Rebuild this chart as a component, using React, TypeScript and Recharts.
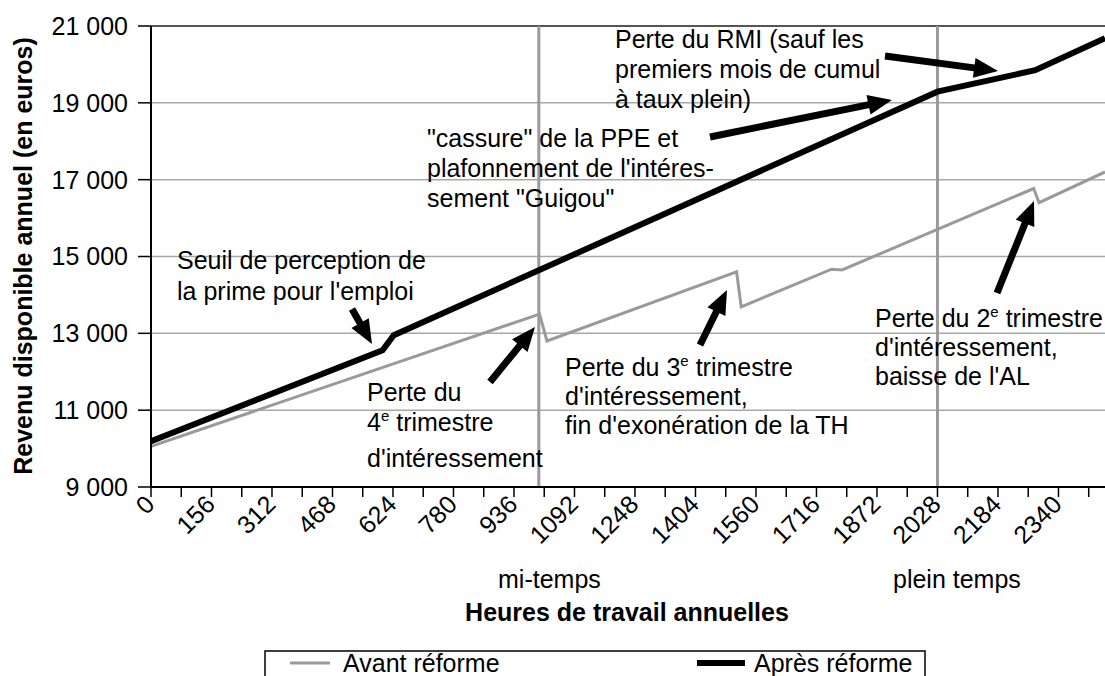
import React from "react";
import { LineChart, Line, XAxis, YAxis, CartesianGrid, ReferenceLine } from "recharts";

// heures annuelles / revenu disponible annuel (euros)
const heuresAvant = [0, 1002, 1021, 1510, 1522, 1755, 1782, 2276, 2290, 2460];
const revenuAvant = [10060, 13500, 12800, 14600, 13690, 14670, 14650, 16770, 16400, 17200];

const heuresApres = [0, 597, 626, 2028, 2280, 2460];
const revenuApres = [10190, 12560, 12950, 19290, 19850, 20680];

const yTicks = [9000, 11000, 13000, 15000, 17000, 19000, 21000];
const xTicks = Array.from({ length: 32 }, (_, i) => i * 78);
const miTemps = 1000;
const pleinTemps = 2028;

const avant = heuresAvant.map((h, i) => ({ h, v: revenuAvant[i] }));
const apres = heuresApres.map((h, i) => ({ h, v: revenuApres[i] }));

const FONT = "'Liberation Sans', Arial, Helvetica, sans-serif";

function fmtY(v: number) {
  const s = String(v);
  return s.slice(0, s.length - 3) + " " + s.slice(-3);
}

function XTick(props: any) {
  const { x, y, payload } = props;
  const v = payload.value;
  if (v % 156 !== 0) return <g />;
  const ax = x + 5;
  const ay = y + 9;
  return (
    <text x={ax} y={ay} transform={`rotate(-45 ${ax} ${ay})`} textAnchor="end" fontSize={25} fill="#000">
      {v}
    </text>
  );
}

function Arrow({ x1, y1, x2, y2 }: { x1: number; y1: number; x2: number; y2: number }) {
  const dx = x2 - x1;
  const dy = y2 - y1;
  const len = Math.sqrt(dx * dx + dy * dy);
  const ux = dx / len;
  const uy = dy / len;
  const hl = 24;
  const hw = 10;
  const bx = x2 - ux * hl;
  const by = y2 - uy * hl;
  return (
    <g>
      <line x1={x1} y1={y1} x2={bx + ux * 2} y2={by + uy * 2} stroke="#000" strokeWidth={7} />
      <polygon
        points={`${x2},${y2} ${bx - uy * hw},${by + ux * hw} ${bx + uy * hw},${by - ux * hw}`}
        fill="#000"
      />
    </g>
  );
}

function Sup({ c }: { c: string }) {
  return (
    <tspan dy={-10} fontSize={15}>
      {c}
    </tspan>
  );
}

export default function App() {
  return (
    <div
      style={{
        position: "absolute",
        left: 0,
        top: 0,
        width: 1105,
        height: 676,
        background: "#fff",
        overflow: "hidden",
        fontFamily: FONT,
      }}
    >
      <LineChart width={1105} height={676} margin={{ top: 26, right: 0, bottom: 0, left: 0 }}>
        <CartesianGrid vertical={false} stroke="#a8a8a8" strokeWidth={1.5} />
        <XAxis
          type="number"
          dataKey="h"
          domain={[0, 2460]}
          ticks={xTicks}
          interval={0}
          height={189}
          tick={<XTick />}
          tickSize={10}
          tickMargin={0}
          axisLine={{ stroke: "#000", strokeWidth: 2 }}
          tickLine={{ stroke: "#000", strokeWidth: 1.5 }}
          allowDataOverflow
        />
        <YAxis
          type="number"
          domain={[9000, 21000]}
          ticks={yTicks}
          width={151}
          tickFormatter={fmtY}
          tick={{ fontSize: 25, fill: "#000" }}
          tickSize={13}
          tickMargin={10}
          axisLine={{ stroke: "#000", strokeWidth: 2 }}
          tickLine={{ stroke: "#000", strokeWidth: 1.5 }}
        />
        <ReferenceLine y={21000} stroke="#555" strokeWidth={2} />
        <ReferenceLine x={miTemps} stroke="#9b9b9b" strokeWidth={3} />
        <ReferenceLine x={pleinTemps} stroke="#9b9b9b" strokeWidth={3} />
        <Line
          data={avant}
          dataKey="v"
          type="linear"
          stroke="#9a9a9a"
          strokeWidth={3}
          dot={false}
          isAnimationActive={false}
        />
        <Line
          data={apres}
          dataKey="v"
          type="linear"
          stroke="#000"
          strokeWidth={6}
          dot={false}
          isAnimationActive={false}
        />
      </LineChart>

      <svg
        width={1105}
        height={676}
        style={{ position: "absolute", left: 0, top: 0, pointerEvents: "none" }}
        fontFamily={FONT}
        fontSize={25}
      >
        <text
          x={32}
          y={256}
          transform="rotate(-90 32 256)"
          textAnchor="middle"
          fontWeight="bold"
        >
          Revenu disponible annuel (en euros)
        </text>

        <text x={498} y={588}>mi-temps</text>
        <text x={893} y={588}>plein temps</text>
        <text x={627} y={621} textAnchor="middle" fontWeight="bold">
          Heures de travail annuelles
        </text>

        <rect x={265} y={651} width={660} height={40} fill="none" stroke="#000" strokeWidth={1.5} />
        <line x1={290} y1={663} x2={330} y2={663} stroke="#9a9a9a" strokeWidth={3} />
        <text x={343} y={672}>Avant réforme</text>
        <line x1={697} y1={663} x2={745} y2={663} stroke="#000" strokeWidth={6} />
        <text x={754} y={672}>Après réforme</text>

        <text x={615}>
          <tspan x={615} y={48}>Perte du RMI (sauf les</tspan>
          <tspan x={615} y={78}>premiers mois de cumul</tspan>
          <tspan x={615} y={108}>à taux plein)</tspan>
        </text>
        <text x={427}>
          <tspan x={427} y={147}>"cassure" de la PPE et</tspan>
          <tspan x={427} y={177}>plafonnement de l'intéres-</tspan>
          <tspan x={427} y={207}>sement "Guigou"</tspan>
        </text>
        <text x={177}>
          <tspan x={177} y={269}>Seuil de perception de</tspan>
          <tspan x={177} y={300}>la prime pour l'emploi</tspan>
        </text>
        <text x={367} y={401}>Perte du</text>
        <text x={367} y={431}>
          4<Sup c="e" />
          <tspan dy={10}> trimestre</tspan>
        </text>
        <text x={367} y={467}>d'intéressement</text>

        <text x={565} y={376}>
          Perte du 3<Sup c="e" />
          <tspan dy={10}> trimestre</tspan>
        </text>
        <text x={565} y={405}>d'intéressement,</text>
        <text x={565} y={434}>fin d'exonération de la TH</text>

        <text x={875} y={327}>
          Perte du 2<Sup c="e" />
          <tspan dy={10}> trimestre</tspan>
        </text>
        <text x={875} y={356}>d'intéressement,</text>
        <text x={875} y={385}>baisse de l'AL</text>

        <Arrow x1={885} y1={56} x2={998} y2={71} />
        <Arrow x1={710} y1={137} x2={892} y2={100} />
        <Arrow x1={352} y1={309} x2={372} y2={344} />
        <Arrow x1={490} y1={382} x2={535} y2={327} />
        <Arrow x1={700} y1={345} x2={727} y2={290} />
        <Arrow x1={997} y1={293} x2={1034} y2={201} />
      </svg>
    </div>
  );
}
